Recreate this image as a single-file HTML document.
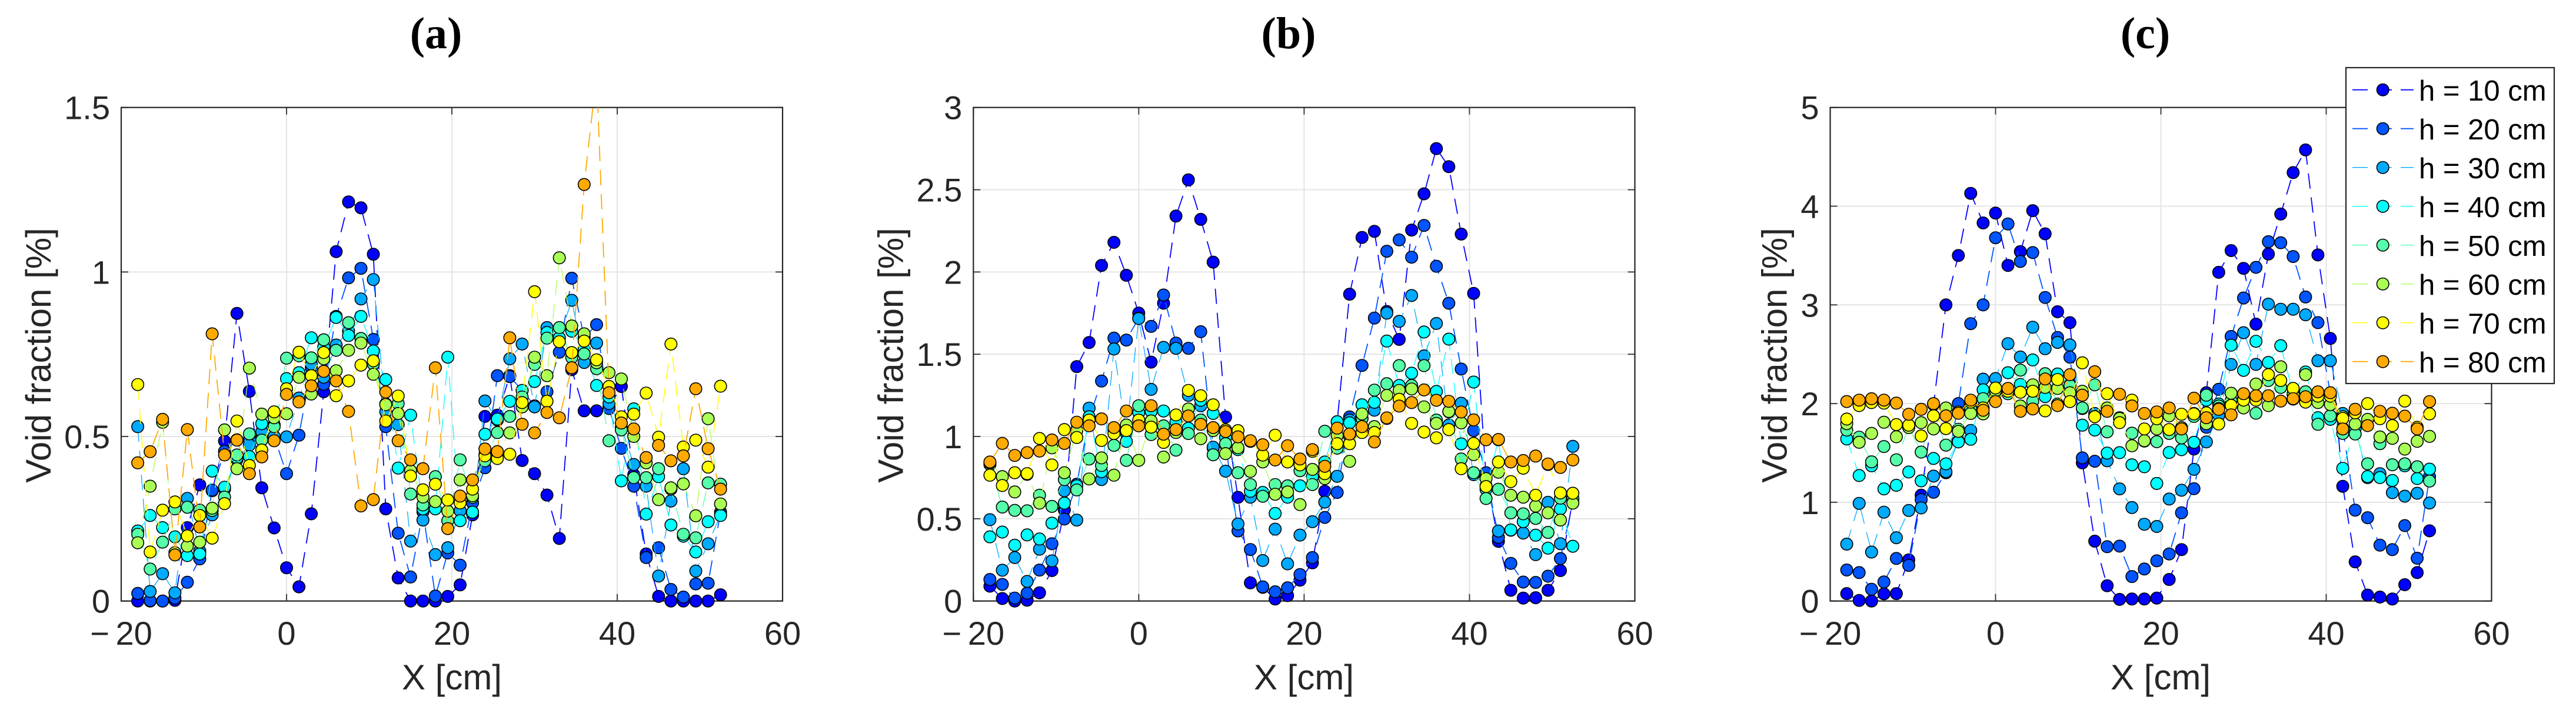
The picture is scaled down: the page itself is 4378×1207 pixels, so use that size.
<!DOCTYPE html>
<html lang="en">
<head>
<meta charset="utf-8">
<title>Void fraction profiles</title>
<style>
html,body{margin:0;padding:0;background:#fff;}
svg{display:block;font-family:"Liberation Sans",Arial,sans-serif;}
.lbl{font-size:60px;fill:#262626;}
.ttl{font-family:"Liberation Serif",serif;font-weight:bold;font-size:76px;fill:#000;text-anchor:middle;}
.leg{font-size:49px;fill:#000;}
</style>
</head>
<body>
<svg id="chart" xmlns="http://www.w3.org/2000/svg" width="4378" height="1207" viewBox="0 0 4378 1207">
<rect x="0" y="0" width="4378" height="1207" fill="#fff"/>
<text class="ttl" x="741" y="82"><tspan>(</tspan>a<tspan>)</tspan></text>
<text class="ttl" x="2190" y="82">(b)</text>
<text class="ttl" x="3646" y="82">(c)</text>
<g id="panels"></g>
<text class="lbl" x="768" y="1172" text-anchor="middle">X [cm]</text>
<text class="lbl" x="2216" y="1172" text-anchor="middle">X [cm]</text>
<text class="lbl" x="3672" y="1172" text-anchor="middle">X [cm]</text>
<text class="lbl" text-anchor="middle" transform="translate(86 604) rotate(-90)">Void fraction [%]</text>
<text class="lbl" text-anchor="middle" transform="translate(1534.5 604) rotate(-90)">Void fraction [%]</text>
<text class="lbl" text-anchor="middle" transform="translate(3036.5 604) rotate(-90)">Void fraction [%]</text>
<g>
<rect x="3987" y="115" width="354" height="537" fill="#fff" stroke="#262626" stroke-width="2.2"/>
<g><line x1="3998" x2="4102" y1="152.7" y2="152.7" stroke="#0000ff" stroke-width="1.8" stroke-dasharray="26 15"/><circle cx="4049.7" cy="152.7" r="10.2" fill="#0000ff" stroke="#000" stroke-width="1.6"/><text class="leg" x="4111" y="171">h = 10 cm</text></g>
<g><line x1="3998" x2="4102" y1="218.7" y2="218.7" stroke="#0055ff" stroke-width="1.8" stroke-dasharray="26 15"/><circle cx="4049.7" cy="218.7" r="10.2" fill="#0055ff" stroke="#000" stroke-width="1.6"/><text class="leg" x="4111" y="237">h = 20 cm</text></g>
<g><line x1="3998" x2="4102" y1="284.7" y2="284.7" stroke="#00aaff" stroke-width="1.3" stroke-dasharray="26 15"/><circle cx="4049.7" cy="284.7" r="10.2" fill="#00aaff" stroke="#000" stroke-width="1.6"/><text class="leg" x="4111" y="303">h = 30 cm</text></g>
<g><line x1="3998" x2="4102" y1="350.7" y2="350.7" stroke="#00ffff" stroke-width="1.3" stroke-dasharray="26 15"/><circle cx="4049.7" cy="350.7" r="10.2" fill="#00ffff" stroke="#000" stroke-width="1.6"/><text class="leg" x="4111" y="369">h = 40 cm</text></g>
<g><line x1="3998" x2="4102" y1="416.7" y2="416.7" stroke="#55ffaa" stroke-width="1.3" stroke-dasharray="26 15"/><circle cx="4049.7" cy="416.7" r="10.2" fill="#55ffaa" stroke="#000" stroke-width="1.6"/><text class="leg" x="4111" y="435">h = 50 cm</text></g>
<g><line x1="3998" x2="4102" y1="482.7" y2="482.7" stroke="#aaff55" stroke-width="1.3" stroke-dasharray="26 15"/><circle cx="4049.7" cy="482.7" r="10.2" fill="#aaff55" stroke="#000" stroke-width="1.6"/><text class="leg" x="4111" y="501">h = 60 cm</text></g>
<g><line x1="3998" x2="4102" y1="548.7" y2="548.7" stroke="#ffff00" stroke-width="1.5" stroke-dasharray="26 15"/><circle cx="4049.7" cy="548.7" r="10.2" fill="#ffff00" stroke="#000" stroke-width="1.6"/><text class="leg" x="4111" y="567">h = 70 cm</text></g>
<g><line x1="3998" x2="4102" y1="614.7" y2="614.7" stroke="#ffaa00" stroke-width="1.8" stroke-dasharray="26 15"/><circle cx="4049.7" cy="614.7" r="10.2" fill="#ffaa00" stroke="#000" stroke-width="1.6"/><text class="leg" x="4111" y="633">h = 80 cm</text></g>
</g>
</svg>
<script>
const xValues = [-18,-16.5,-15,-13.5,-12,-10.5,-9,-7.5,-6,-4.5,-3,-1.5,0,1.5,3,4.5,6,7.5,9,10.5,12,13.5,15,16.5,18,19.5,21,22.5,24,25.5,27,28.5,30,31.5,33,34.5,36,37.5,39,40.5,42,43.5,45,46.5,48,49.5,51,52.5];
const seriesLabels = ['10','20','30','40','50','60','70','80'];
const xTickValues = [-20,0,20,40,60];
const xTickLabels = ['\u2212 20','0','20','40','60'];

const aYTicks = [0,0.5,1,1.5];
const aYLabels = ['0','0.5','1','1.5'];
const bYTicks = [0,0.5,1,1.5,2,2.5,3];
const bYLabels = ['0','0.5','1','1.5','2','2.5','3'];
const cYTicks = [0,1,2,3,4,5];
const cYLabels = ['0','1','2','3','4','5'];

const a10 = [0,0,0,.002,.223,.353,.335,.486,.874,.637,.344,.222,.101,.043,.265,.636,1.062,1.213,1.195,1.054,.28,.07,0,0,0,.014,.049,.262,.561,.565,.685,.427,.387,.322,.19,.703,.578,.578,.59,.652,.384,.143,.014,0,0,0,0,.019];
const a20 = [.023,.001,0,.009,.057,.128,.337,.455,.49,.49,.495,.5,.387,.504,.709,.659,.865,.982,1.011,.795,.53,.206,.073,.271,.015,.146,.109,.298,.405,.685,.682,.64,.593,.636,.756,.981,.8,.84,.585,.464,.349,.132,.162,.035,.012,.052,.054,.27];
const a30 = [.53,.029,.083,.025,.312,.152,.262,.34,.43,.474,.515,.5,.499,.617,.72,.68,.778,.82,.918,.977,.575,.536,.182,.246,.141,.162,.274,.27,.608,.55,.736,.781,.59,.831,.8,.914,.725,.784,.6,.527,.415,.349,.076,.304,.402,.091,.174,.262];
const a40 = [.213,.26,.223,.195,.138,.143,.395,.346,.435,.439,.539,.536,.676,.694,.8,.772,.862,.807,.865,.76,.673,.404,.565,.28,.28,.741,.244,.27,.507,.553,.607,.64,.667,.816,.8,.82,.766,.655,.62,.365,.584,.264,.378,.231,.197,.149,.241,.26];
const a50 = [.203,.097,.179,.28,.285,.276,.275,.316,.444,.508,.489,.53,.738,.745,.739,.794,.762,.846,.798,.72,.599,.6,.325,.292,.378,.244,.429,.315,.426,.512,.561,.62,.719,.799,.831,.74,.751,.706,.487,.52,.375,.375,.402,.34,.203,.192,.359,.355];
const a60 = [.177,.349,.543,.147,.167,.179,.282,.52,.402,.708,.568,.557,.569,.68,.629,.736,.7,.762,.784,.689,.597,.57,.396,.316,.302,.273,.368,.32,.445,.45,.511,.59,.741,.685,1.043,.836,.812,.724,.694,.675,.5,.42,.308,.344,.356,.259,.554,.295];
const a70 = [.658,.149,.276,.301,.198,.26,.191,.296,.547,.412,.459,.575,.645,.756,.685,.755,.624,.669,.717,.73,.547,.623,.38,.338,.355,.307,.298,.34,.441,.433,.446,.603,.94,.607,.788,.755,.79,.733,.652,.56,.568,.632,.498,.781,.468,.489,.407,.653];
const a80 = [.42,.454,.552,.14,.521,.225,.812,.444,.489,.387,.438,.487,.628,.605,.654,.698,.669,.576,.289,.308,.635,.487,.429,.402,.709,.22,.319,.368,.462,.454,.8,.537,.511,.573,.557,.709,1.266,1.6,.633,.541,.523,.436,.473,.426,.441,.645,.463,.34];

const b10 = [.09,.015,0,.005,.05,.185,.553,1.425,1.571,2.04,2.18,1.98,1.75,1.452,1.81,2.34,2.56,2.32,2.06,1.118,.63,.11,.083,.012,.033,.127,.232,.667,1.09,1.865,2.21,2.247,1.76,1.59,2.255,2.475,2.75,2.64,2.23,1.87,.76,.363,.065,.018,.02,.065,.185,.62];
const b20 = [.131,.101,.018,.048,.188,.348,.498,.71,1.11,1.337,1.598,1.586,1.72,1.669,1.86,1.568,1.536,1.637,.93,.95,.426,.313,.086,.056,.08,.161,.264,.508,.66,1.119,1.432,1.72,2.126,2.195,2.09,2.283,2.035,1.81,1.41,1.036,.78,.387,.229,.115,.113,.151,.258,.6];
const b30 = [.494,.187,.264,.119,.315,.244,.67,.492,1.173,.738,1.532,1.02,1.717,1.286,1.542,1.536,1.25,1.187,.935,.789,.468,.631,.246,.437,.226,.401,.482,.601,.758,1.1,1.11,1.16,1.75,1.7,1.857,1.49,1.687,1.07,1.202,.768,.7,.425,.43,.413,.282,.6,.348,.94];
const b40 = [.39,.419,.339,.402,.377,.473,.595,.7,1.12,.786,1.04,.97,1.145,1.152,1.155,1.09,1.05,1.22,1.14,.994,.92,.667,.66,.532,.631,.7,.756,.845,1.09,1.083,1.193,1.208,1.58,1.31,1.385,1.635,1.274,1.592,.955,1.331,.679,.98,.432,.482,.4,.321,.56,.333];
const b50 = [.83,.571,.551,.548,.643,.575,.738,.675,.863,.824,.946,.855,1.187,1.012,1.065,.917,1.018,1.1,.889,.956,.78,.708,.637,.708,.7,.792,.708,1.032,.929,1,1.11,1.282,1.321,1.431,1.31,1.431,1.1,1.15,.863,.78,.623,.679,.536,.53,.502,.417,.625,.625];
const b60 = [.84,.756,.663,.77,.595,.931,.78,1.036,.742,.87,.765,1.07,.855,1.095,.875,1.024,1.167,.986,1.036,.896,.932,.788,.845,.649,.663,.586,.8,.744,1.006,.849,1.137,1.06,1.25,1.28,1.289,1.18,1.08,1.152,1.083,.89,.744,.783,.643,.631,.577,.536,.492,.595];
const b70 = [.765,.702,.78,.774,.988,.827,1.042,.994,1.1,.976,1.018,1.036,1.1,1.057,.964,1.131,1.28,1.248,1.193,1.04,1.036,.97,.887,1.008,.845,.827,.91,.774,.956,.956,1.024,1.024,1.11,1.226,1.08,1.027,.992,1.042,.804,.958,.696,.845,.726,.807,.643,.83,.657,.655];
const b80 = [.845,.958,.885,.902,.911,.979,.958,1.087,1.065,1.107,1.054,1.155,1.065,1.187,1.014,1.042,1.125,1.074,1.054,1.03,.998,.974,.95,.857,.944,.863,.92,.819,1.051,1.015,1.06,.967,1.113,1.185,1.206,1.283,1.22,1.214,1.149,1.101,.98,.982,.845,.854,.881,.833,.812,.857];

const c10 = [.075,.006,0,.073,.075,.417,1.072,1.99,3,3.5,4.13,3.83,3.93,3.4,3.54,3.955,3.72,2.93,2.82,1.4,.606,.155,.016,.02,.02,.03,.218,.52,1.54,2.11,3.33,3.55,3.37,2.805,3.515,3.92,4.34,4.57,3.506,2.66,1.162,.397,.06,.04,.02,.165,.288,.711];
const c20 = [.314,.288,.119,.193,.431,.361,1.027,1.102,1.3,2,2.81,3,3.68,3.82,3.44,3.53,3.075,2.67,2.47,1.45,1.416,.55,.556,.248,.324,.407,.477,.894,1.138,1.76,2.145,2.68,3.07,3.38,3.64,3.63,3.49,3.08,2.82,2.1,1.75,.92,.844,.566,.52,.764,.433,1.26];
const c30 = [.576,.989,.496,.9,.641,.917,.943,1.265,1.31,1.62,1.728,2.248,2.254,2.607,2.472,2.774,2.556,2.62,2.595,1.95,1.9,1.42,1.136,.947,.778,.755,1.033,1.122,1.334,1.612,1.88,2.397,2.718,2.397,3.007,2.956,2.956,2.9,2.434,2.434,1.9,1.75,1.25,1.29,1.098,1.062,1.092,.993];
const c40 = [1.642,1.271,1.37,1.136,1.172,1.307,1.217,1.444,1.39,1.612,1.638,2.14,2.1,2.313,2.194,2.442,2.071,2.3,2.19,1.781,1.732,1.499,1.503,1.38,1.36,1.191,1.505,1.533,1.608,2.035,1.996,2.591,2.337,2.631,2.417,2.587,2.1,2.32,1.857,1.84,1.344,1.75,1.261,1.251,1.221,1.37,1.241,1.336];
const c50 = [1.732,1.66,1.41,1.565,1.43,1.76,1.509,1.876,1.579,1.74,1.95,2.05,2.15,2.1,2.339,2.025,2.303,1.995,2.184,1.956,2.19,1.714,1.857,1.7,1.62,1.614,1.698,1.652,1.87,2.085,1.976,2.03,2.05,1.902,2.234,2.164,2.045,2.12,1.79,1.876,1.698,1.692,1.39,1.594,1.38,1.39,1.36,1.215];
const c60 = [1.797,1.608,1.698,1.811,1.664,1.757,1.807,1.743,1.956,1.718,1.9,1.896,2.13,2.15,1.976,2.19,2.164,2.154,2.11,2.125,1.87,1.956,1.85,1.573,1.624,1.743,1.876,1.757,1.9,1.797,1.95,2.105,1.956,2.198,1.98,2.373,2.09,2.293,2.01,1.99,1.867,1.793,1.84,1.662,1.648,1.539,1.618,1.668];
const c70 = [1.843,1.98,2.01,2.005,1.787,1.781,1.672,1.876,1.747,1.915,2.015,1.956,2.158,2.125,2.115,2.125,1.926,2.244,2.02,2.413,1.867,2.1,1.807,2.035,1.743,1.847,1.737,1.892,1.896,1.906,1.793,1.982,2.035,2.035,2.293,2.234,2.154,2.015,2.075,2.075,1.85,1.906,2,1.847,1.777,2.025,1.76,1.896];
const c80 = [2.021,2.035,2.049,2.035,2.005,1.892,1.942,2,1.876,1.902,2.035,1.932,2.021,2.154,1.922,1.946,2.25,1.98,2.293,2.085,2.323,1.922,2.095,1.976,1.9,1.916,1.956,1.743,2.055,1.857,1.942,1.886,2.1,2.08,2.08,2.025,2.05,2.07,2.119,2.11,1.743,1.942,1.777,1.922,1.902,1.873,1.743,2.02];

const NS = 'http://www.w3.org/2000/svg';
const seriesColors = ['#0000ff','#0055ff','#00aaff','#00ffff','#55ffaa','#aaff55','#ffff00','#ffaa00'];
const seriesWidths = [1.8,1.8,1.3,1.3,1.3,1.3,1.5,1.8];

function make(tag, parent) {
  const el = document.createElementNS(NS, tag);
  parent.appendChild(el);
  return el;
}

function drawPanel(key, left, right, yMax, yTicks, yLabels, series) {
  const top = 182.7, bottom = 1021.7;
  const xScale = function (v) { return left + (v + 20) / 80 * (right - left); };
  const yScale = function (v) { return bottom - v / yMax * (bottom - top); };
  const root = document.getElementById('panels');

  const g = make('g', root);
  
  

  const clip = make('clipPath', g);
  clip.setAttribute('id', 'clip-' + key);
  const clipRect = make('rect', clip);
  clipRect.setAttribute('x', left);
  clipRect.setAttribute('y', top);
  clipRect.setAttribute('width', right - left);
  clipRect.setAttribute('height', bottom - top);

  xTickValues.forEach(function (v, i) {
    const x = xScale(v);
    if (i > 0 && i < xTickValues.length - 1) {
      const gl = make('line', g);
      
      
      gl.setAttribute('x1', x); gl.setAttribute('x2', x);
      gl.setAttribute('y1', top); gl.setAttribute('y2', bottom);
      gl.setAttribute('stroke', '#e4e4e4'); gl.setAttribute('stroke-width', '2');
    }
    [[bottom, bottom - 12], [top, top + 12]].forEach(function (p) {
      const t = make('line', g);
      
      
      t.setAttribute('x1', x); t.setAttribute('x2', x);
      t.setAttribute('y1', p[0]); t.setAttribute('y2', p[1]);
      t.setAttribute('stroke', '#404040'); t.setAttribute('stroke-width', '2');
    });
    const lab = make('text', g);
    
    
    lab.setAttribute('x', x); lab.setAttribute('y', 1096);
    lab.setAttribute('text-anchor', 'middle');
    lab.setAttribute('font-size', '56');
    lab.setAttribute('word-spacing', '-5');
    lab.setAttribute('fill', '#262626');
    lab.textContent = xTickLabels[i];
  });

  yTicks.forEach(function (v, i) {
    const y = yScale(v);
    if (i > 0 && i < yTicks.length - 1) {
      const gl = make('line', g);
      
      
      gl.setAttribute('x1', left); gl.setAttribute('x2', right);
      gl.setAttribute('y1', y); gl.setAttribute('y2', y);
      gl.setAttribute('stroke', '#e4e4e4'); gl.setAttribute('stroke-width', '2');
    }
    [[left, left + 12], [right, right - 12]].forEach(function (p) {
      const t = make('line', g);
      
      
      t.setAttribute('x1', p[0]); t.setAttribute('x2', p[1]);
      t.setAttribute('y1', y); t.setAttribute('y2', y);
      t.setAttribute('stroke', '#404040'); t.setAttribute('stroke-width', '2');
    });
    const lab = make('text', g);
    
    
    lab.setAttribute('x', left - 19); lab.setAttribute('y', y + 20);
    lab.setAttribute('text-anchor', 'end');
    lab.setAttribute('font-size', '56');
    lab.setAttribute('fill', '#262626');
    lab.textContent = yLabels[i];
  });

  const box = make('rect', g);
  
  
  box.setAttribute('x', left); box.setAttribute('y', top);
  box.setAttribute('width', right - left); box.setAttribute('height', bottom - top);
  box.setAttribute('fill', 'none');
  box.setAttribute('stroke', '#262626'); box.setAttribute('stroke-width', '2.2');

  series.forEach(function (vals, s) {
    const sg = make('g', g);
    
    

    const line = make('polyline', sg);
    
    
    line.setAttribute('points', vals.map(function (v, i) { return xScale(xValues[i]).toFixed(1) + ',' + yScale(v).toFixed(1); }).join(' '));
    line.setAttribute('fill', 'none');
    line.setAttribute('stroke', seriesColors[s]);
    line.setAttribute('stroke-width', seriesWidths[s]);
    line.setAttribute('stroke-dasharray', '26 15');
    line.setAttribute('clip-path', 'url(#clip-' + key + ')');

    vals.forEach(function (v, i) {
      if (v > yMax) return;
      const c = make('circle', sg);
      
      
      c.setAttribute('cx', xScale(xValues[i]).toFixed(1));
      c.setAttribute('cy', yScale(v).toFixed(1));
      c.setAttribute('r', '10.2');
      c.setAttribute('fill', seriesColors[s]);
      c.setAttribute('stroke', '#000');
      c.setAttribute('stroke-width', '1.6');
    });
  });
}

drawPanel('a', 206, 1330, 1.5, aYTicks, aYLabels, [a10,a20,a30,a40,a50,a60,a70,a80]);
drawPanel('b', 1654.3, 2778.5, 3, bYTicks, bYLabels, [b10,b20,b30,b40,b50,b60,b70,b80]);
drawPanel('c', 3110.5, 4234.5, 5, cYTicks, cYLabels, [c10,c20,c30,c40,c50,c60,c70,c80]);
</script>
</body>
</html>
